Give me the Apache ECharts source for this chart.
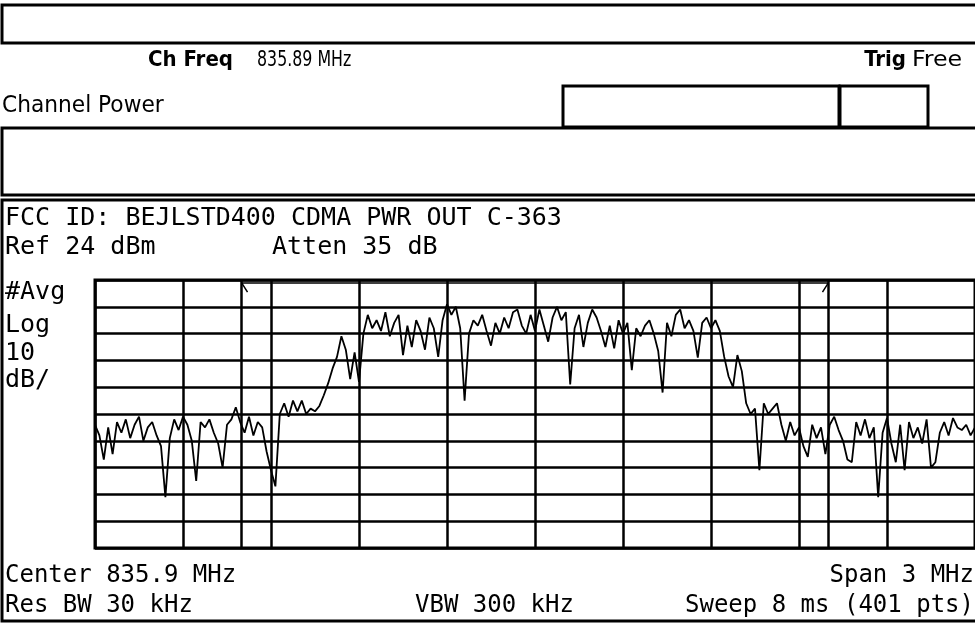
<!DOCTYPE html>
<html>
<head>
<meta charset="utf-8">
<script src="https://cdn.jsdelivr.net/npm/echarts@6/dist/echarts.min.js"></script>
<style>
html,body{margin:0;padding:0;background:#fff;}
#chart{width:975px;height:629px;}
</style>
</head>
<body>
<div id="chart"></div>
<script>
// ---- Data ----
var centerFreqMHz = 835.9;
var spanMHz = 3;
var refLevelDbm = 24;
var dbPerDiv = 10;
var integrationEdgesMHz = [834.9, 836.9];
// trace (dBm), sampled every 15 kHz across the span
var traceDbm = [
 -30,-34,-43,-31,-41,-29,-33,-28,-35,-30,
 -27,-36,-31,-29,-34,-38,-57,-35,-28,-32,
 -27,-30,-36,-51,-29,-31,-28,-33,-37,-46,
 -30,-28,-23.5,-29,-33,-27,-34,-29,-31,-40,
 -47,-53,-26,-22,-27,-21,-25,-21,-26,-24,
 -25,-23,-19,-14.5,-9,-4.7,3,-2,-13,-3,
 -14,4,11,6,9,5,12,3,8,11,
 -4,7,-1,9,5,-2,10,6,-4.7,9,
 15,11,14,6,-21,4,9,7,11,5,
 -0.5,8,4,10,6,12,13,7,4,11,
 5,13,7,1,10,14,9,12,-15,6,
 11,-1,8,13,10,5,-1,7,-1.5,9,
 4,8,-9.6,6,3,7,9,4,-2.5,-18,
 8,3,11,13,6,9,5,-5,8,10,
 6,9,5,-4.7,-12,-16,-4,-10,-22,-26,
 -24,-47,-22,-26,-24,-22,-30,-36,-29,-34,
 -31,-38,-42,-30,-35,-31,-41,-30,-27,-32,
 -36,-43,-44,-29,-34,-28,-35,-31,-57,-33,
 -27.5,-37,-44,-30,-47,-29,-35,-31,-37,-28,
 -46,-44,-33,-29,-34,-27.5,-31,-32,-30,-34,
 -31
];
var headerTexts = { chFreqLabel: 'Ch Freq', chFreqValue: '835.89 MHz', trigLabel: 'Trig', trigValue: 'Free', mode: 'Channel Power' };
var plotTexts = {
  title: 'FCC ID: BEJLSTD400 CDMA PWR OUT C-363',
  ref: 'Ref 24 dBm', atten: 'Atten 35 dB',
  side: ['#Avg', 'Log', '10', 'dB/'],
  center: 'Center 835.9 MHz', span: 'Span 3 MHz',
  rbw: 'Res BW 30 kHz', vbw: 'VBW 300 kHz', sweep: 'Sweep 8 ms (401 pts)'
};

// ---- Derived ----
var startF = centerFreqMHz - spanMHz / 2;
var stopF = centerFreqMHz + spanMHz / 2;
var stepF = spanMHz / (traceDbm.length - 1);
var traceData = traceDbm.map(function (v, i) { return [startF + i * stepF, v]; });
var yMin = refLevelDbm - 10 * dbPerDiv;
var markTop = refLevelDbm - 1.1;
var markerData = [
  [integrationEdgesMHz[0] + 0.02, markTop - 3.4],
  [integrationEdgesMHz[0], markTop],
  [integrationEdgesMHz[1], markTop],
  [integrationEdgesMHz[1] - 0.02, markTop - 3.4]
];

var mono = '"DejaVu Sans Mono", monospace';
var narrow = '"Liberation Sans Narrow", "DejaVu Sans Condensed", "DejaVu Sans", sans-serif';

function txt(x, y, s, size, fam, weight, align, sx) {
  return { type: 'text', x: x, y: y, silent: true, scaleX: sx || 1,
    style: { text: s, fontSize: size, fontFamily: fam, fontWeight: weight || 'normal', fill: '#000', align: align || 'left', verticalAlign: 'middle' } };
}
function box(x, y, w, h, lw) {
  return { type: 'rect', silent: true, shape: { x: x, y: y, width: w, height: h },
    style: { fill: 'none', stroke: '#000', lineWidth: lw || 3 } };
}

var chart = echarts.init(document.getElementById('chart'), null, { renderer: 'canvas' });
chart.setOption({
  backgroundColor: '#fff',
  animation: false,
  grid: { left: 95, top: 280, width: 891, height: 268, show: true, borderColor: '#000', borderWidth: 3, backgroundColor: 'transparent' },
  xAxis: [
    { type: 'value', min: startF, max: stopF, show: false, gridIndex: 0 },
    { type: 'value', min: 0, max: 10, interval: 1, gridIndex: 0,
      axisLine: { show: false }, axisTick: { show: false }, axisLabel: { show: false },
      splitLine: { show: true, lineStyle: { color: '#000', width: 2.5 } } }
  ],
  yAxis: [
    { type: 'value', min: yMin, max: refLevelDbm, show: false, gridIndex: 0 },
    { type: 'value', min: 0, max: 10, interval: 1, gridIndex: 0,
      axisLine: { show: false }, axisTick: { show: false }, axisLabel: { show: false },
      splitLine: { show: true, lineStyle: { color: '#000', width: 2.5 } } }
  ],
  series: [
    { type: 'line', xAxisIndex: 0, yAxisIndex: 0, data: traceData, showSymbol: false, symbol: 'none',
      lineStyle: { color: '#000', width: 1.8 }, clip: true, z: 5,
      markLine: { silent: true, symbol: 'none', label: { show: false },
        lineStyle: { color: '#000', width: 2.5, type: 'solid' },
        data: integrationEdgesMHz.map(function (f) { return { xAxis: f }; }) } },
    { type: 'line', xAxisIndex: 0, yAxisIndex: 0, data: markerData, showSymbol: false, symbol: 'none',
      lineStyle: { color: '#000', width: 1.5 }, z: 4 }
  ],
  graphic: [
    box(2, 5, 1000, 38),
    txt(148, 60, headerTexts.chFreqLabel, 22, narrow, 'bold'),
    txt(257, 60, headerTexts.chFreqValue, 22, narrow, 'normal', 'left', 0.8),
    txt(906, 60, headerTexts.trigLabel, 22, narrow, 'bold', 'right'),
    txt(912, 60, headerTexts.trigValue, 22, narrow, 'normal', 'left', 1.2),
    txt(2, 106, headerTexts.mode, 23, narrow, 'normal', 'left', 1.05),
    box(563, 86, 276, 41),
    box(840, 86, 88, 41),
    box(2, 128, 1000, 67),
    box(2, 200, 1000, 421, 3),
    txt(5, 218, plotTexts.title, 25, mono),
    txt(5, 247, plotTexts.ref, 25, mono),
    txt(272, 247, plotTexts.atten, 25, mono),
    txt(5, 292, plotTexts.side[0], 25, mono),
    txt(5, 325, plotTexts.side[1], 25, mono),
    txt(5, 353, plotTexts.side[2], 25, mono),
    txt(5, 380, plotTexts.side[3], 25, mono),
    txt(5, 576, plotTexts.center, 24, mono),
    txt(974, 576, plotTexts.span, 24, mono, 'normal', 'right'),
    txt(5, 606, plotTexts.rbw, 24, mono),
    txt(415, 606, plotTexts.vbw, 24, mono),
    txt(974, 606, plotTexts.sweep, 24, mono, 'normal', 'right')
  ]
});
</script>
</body>
</html>
